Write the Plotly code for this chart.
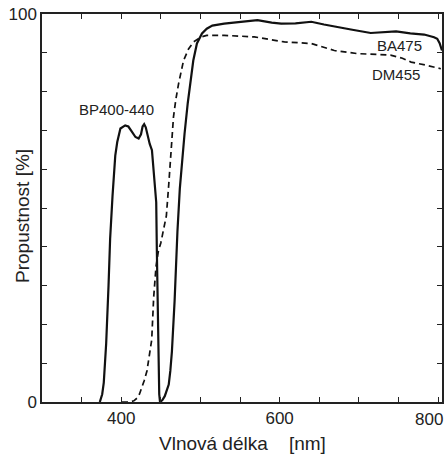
import plotly.graph_objects as go

# BP400-440 excitation filter (solid)
bp_x = [373, 376, 378, 381, 384, 386, 389, 392.5, 395, 399, 405, 409, 413, 418, 422, 425, 427, 429, 431, 432.5, 436, 438.8, 441, 443, 444.2, 445, 446, 447, 448, 449]
bp_y = [0, 2, 5, 15, 30, 42, 53, 63.5, 67, 70.5, 71.3, 71, 69.8, 68.3, 67.9, 69, 71, 71.6, 70.8, 69.2, 66.5, 64.9, 60, 55, 51.5, 39, 22, 8, 2, 0]

# BA475 barrier filter (solid)
ba_x = [449, 452, 455, 458, 460, 462, 464, 467.4, 469, 471, 474, 477, 480, 484, 487, 491, 495.6, 502, 508, 515, 530, 550, 572, 590, 602, 620, 640, 656, 672, 690, 715, 735, 747, 765, 782.5, 795, 799, 802, 805]
ba_y = [0, 0.5, 1.5, 3, 4.5, 8, 13, 26, 35, 44, 55, 63, 69.2, 77, 82, 88, 92.4, 95, 96.2, 97, 97.5, 98, 98.4, 97.8, 97.5, 97.6, 98, 97.3, 96.6, 96, 95.1, 95.3, 95.5, 95, 94.7, 94, 93.6, 92.5, 90.6]

# DM455 dichroic mirror (dashed)
dm_x = [401, 410, 416, 420, 423, 426, 429, 432.5, 435, 438.5, 441, 444, 447, 450, 453, 457, 460, 462, 466, 469, 472.4, 478.7, 485, 491.3, 500, 508, 530, 568, 606, 640, 669, 698, 740, 755, 766, 785, 803.5]
dm_y = [0, 0, 0.3, 1, 2, 3.5, 5.5, 8, 11, 16, 27, 35, 39, 41, 44, 48, 56, 62.3, 73.5, 78, 82, 88, 91, 92.8, 94, 94.5, 94.5, 94.1, 92.8, 92.4, 90.6, 89.8, 89.4, 88.6, 87.6, 86.8, 85.9]

x_tick_vals = [300, 350, 400, 450, 500, 550, 600, 650, 700, 750, 800]
x_tick_text = ["", "", "400", "", "", "", "600", "", "", "", ""]
y_tick_vals = [0, 10, 20, 30, 40, 50, 60, 70, 80, 90, 100]
y_tick_text = ["0", "", "", "", "", "", "", "", "", "", "100"]

labels = [
    ("BP400-440", 394.6, 75.5),
    ("BA475", 751, 92),
    ("DM455", 746.5, 84.5),
]

x_title = "Vlnová délka &nbsp;&nbsp; [nm]"
y_title = "Propustnost [%]"

fig = go.Figure()
fig.add_trace(go.Scatter(x=bp_x, y=bp_y, mode="lines",
                         line=dict(color="#111111", width=2.2), showlegend=False))
fig.add_trace(go.Scatter(x=dm_x, y=dm_y, mode="lines",
                         line=dict(color="#111111", width=1.7, dash="6px,4px"), showlegend=False))
fig.add_trace(go.Scatter(x=ba_x, y=ba_y, mode="lines",
                         line=dict(color="#111111", width=2.2), showlegend=False))

font_family = "Liberation Sans, Arial, Helvetica, sans-serif"
text_color = "#222222"

for text, lx, ly in labels:
    fig.add_annotation(x=lx, y=ly, text=text, showarrow=False,
                       font=dict(family=font_family, size=15, color=text_color))

# the last x tick label sits flush with the right edge of the image
fig.add_annotation(x=1, xref="paper", y=0, yref="paper", yshift=-6, xshift=3,
                   text="800", showarrow=False, xanchor="right", yanchor="top",
                   font=dict(family=font_family, size=17, color=text_color))

# axis titles
fig.add_annotation(x=0.5, xref="paper", y=0, yref="paper", yshift=-41,
                   text=x_title, showarrow=False, xanchor="center", yanchor="middle",
                   font=dict(family=font_family, size=19, color=text_color))
fig.add_annotation(x=0, xref="paper", y=0.5, yref="paper", xshift=-20, yshift=-8,
                   text=y_title, showarrow=False, textangle=-90,
                   xanchor="center", yanchor="middle",
                   font=dict(family=font_family, size=19, color=text_color))

axis_common = dict(
    showgrid=False, zeroline=False, showline=True, linecolor="#222222", linewidth=1.5,
    ticks="inside", ticklen=5, tickwidth=1.2, tickcolor="#222222", mirror="ticks",
    tickfont=dict(family=font_family, size=17, color=text_color), automargin=False,
)

fig.update_xaxes(range=[300, 805], tickmode="array", tickvals=x_tick_vals, ticktext=x_tick_text,
                 **axis_common)
fig.update_yaxes(range=[0, 100], tickmode="array", tickvals=y_tick_vals, ticktext=y_tick_text,
                 **axis_common)

fig.update_layout(
    width=448, height=457,
    margin=dict(l=42, r=6, t=14, b=55),
    plot_bgcolor="white", paper_bgcolor="white",
)

fig.write_html("out.html", config={"displayModeBar": False},
               post_script="document.body.style.margin='0';document.body.style.overflow='hidden';")
